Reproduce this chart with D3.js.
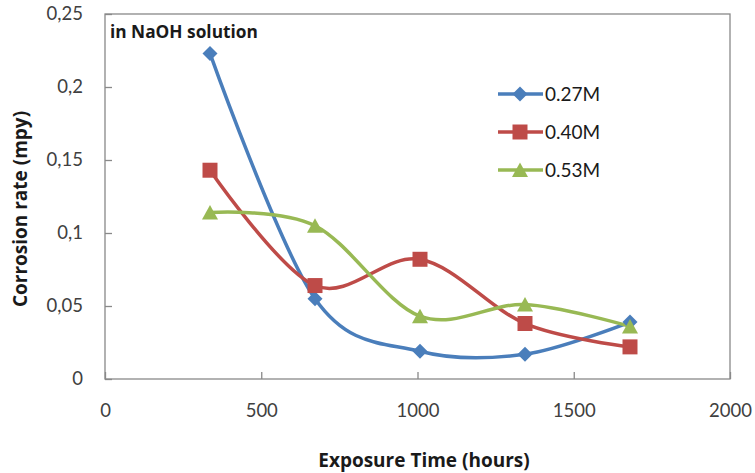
<!DOCTYPE html>
<html><head><meta charset="utf-8">
<script src="https://cdn.jsdelivr.net/npm/d3@7"></script>
<style>body{margin:0;background:#fff;}</style>
</head><body>
<svg id="c" width="755" height="473"></svg>
<script>
const hours = [336, 672, 1008, 1344, 1680];
const seriesNames = ["0.27M", "0.40M", "0.53M"];
const rate027 = [0.223, 0.055, 0.019, 0.017, 0.039];
const rate040 = [0.143, 0.064, 0.082, 0.038, 0.022];
const rate053 = [0.114, 0.105, 0.043, 0.051, 0.036];
const xTicks = [0, 500, 1000, 1500, 2000];
const yTicks = [0, 0.05, 0.1, 0.15, 0.2, 0.25];
const yTickLabels = ["0", "0,05", "0,1", "0,15", "0,2", "0,25"];

const colors = ["#4A7EBB", "#BE4B48", "#98B954"];
const markers = ["diamond", "square", "triangle"];
const seriesData = [rate027, rate040, rate053];

const svg = d3.select("#c");
const L = 105, R = 730, T = 14, B = 379;
const x = d3.scaleLinear().domain([0, 2000]).range([L, R]);
const y = d3.scaleLinear().domain([0, 0.25]).range([B, T]);
const regFont = "Lato, sans-serif";
const boldFont = "'Open Sans', Lato, sans-serif";

// plot box
svg.append("rect").attr("x", L).attr("y", T).attr("width", R - L).attr("height", B - T)
  .attr("fill", "none").attr("stroke", "#898989").attr("stroke-width", 1.3);

// y axis
const yAx = svg.append("g").attr("transform", `translate(${L},0)`)
  .call(d3.axisLeft(y).tickValues(yTicks).tickSize(-7).tickPadding(22)
    .tickFormat((d, i) => yTickLabels[i]));
yAx.select(".domain").remove();
yAx.selectAll("line").attr("stroke", "#898989").attr("stroke-width", 1.3);
yAx.selectAll("text").style("font-size", "18.5px").style("font-family", regFont).attr("fill", "#404040");

// x axis
const xAx = svg.append("g").attr("transform", `translate(0,${B})`)
  .call(d3.axisBottom(x).tickValues(xTicks).tickSize(-7).tickPadding(25).tickFormat(d3.format("d")));
xAx.select(".domain").remove();
xAx.selectAll("line").attr("stroke", "#898989").attr("stroke-width", 1.3);
xAx.selectAll("text").style("font-size", "18.5px").style("font-family", regFont).attr("fill", "#404040");

// axis titles
svg.append("text").attr("x", 424).attr("y", 467).attr("text-anchor", "middle")
  .style("font-family", boldFont).style("font-size", "19px").style("font-weight", "bold")
  .attr("fill", "#1a1a1a").text("Exposure Time (hours)");
svg.append("text").attr("transform", "translate(27,209) rotate(-90)").attr("text-anchor", "middle")
  .style("font-family", boldFont).style("font-size", "19px").style("font-weight", "bold")
  .attr("fill", "#1a1a1a").text("Corrosion rate (mpy)");
svg.append("text").attr("x", 110).attr("y", 38)
  .style("font-family", boldFont).style("font-size", "17.3px").style("font-weight", "bold")
  .attr("fill", "#1a1a1a").text("in NaOH solution");

function markerPath(type) {
  if (type === "diamond") return "M0,-7.5L7.5,0L0,7.5L-7.5,0Z";
  if (type === "square") return "M-7.5,-7.5H7.5V7.5H-7.5Z";
  return "M0,-7.5L8,7L-8,7Z";
}

const line = d3.line().x(d => x(d[0])).y(d => y(d[1])).curve(d3.curveCardinal.tension(0));

seriesData.forEach((vals, i) => {
  const pts = hours.map((h, j) => [h, vals[j]]);
  svg.append("path").datum(pts).attr("d", line).attr("fill", "none")
    .attr("stroke", colors[i]).attr("stroke-width", 3.5).attr("stroke-linejoin", "round");
});
seriesData.forEach((vals, i) => {
  const pts = hours.map((h, j) => [h, vals[j]]);
  svg.append("g").selectAll("path").data(pts).join("path")
    .attr("transform", d => `translate(${x(d[0])},${y(d[1])})`)
    .attr("d", markerPath(markers[i])).attr("fill", colors[i]);
});

// legend
const legY = [94, 132, 170];
seriesNames.forEach((name, i) => {
  const g = svg.append("g").attr("transform", `translate(0,${legY[i]})`);
  g.append("line").attr("x1", 498).attr("x2", 543).attr("y1", 0).attr("y2", 0)
    .attr("stroke", colors[i]).attr("stroke-width", 3.5);
  g.append("path").attr("transform", "translate(520,0)").attr("d", markerPath(markers[i])).attr("fill", colors[i]);
  g.append("text").attr("x", 545).attr("y", 6.5).style("font-family", regFont).style("font-size", "19px")
    .attr("fill", "#1a1a1a").text(name);
});
</script>
</body></html>
